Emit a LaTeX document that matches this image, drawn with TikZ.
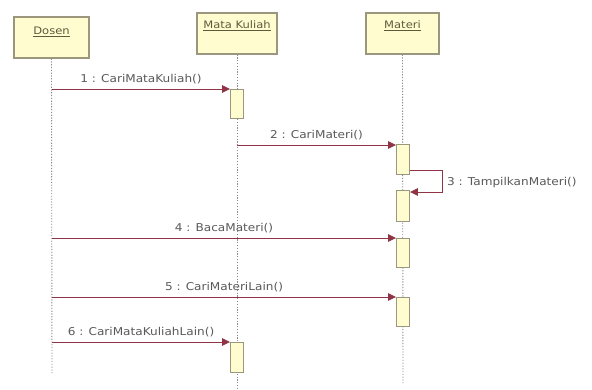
\documentclass[tikz,border=0pt]{standalone}
\usepackage{fontspec}
\setmainfont{DejaVu Sans}
\newfontfamily\lblfont[FakeStretch=1.12]{DejaVu Sans}
\usetikzlibrary{arrows.meta}
\definecolor{boxfill}{HTML}{FFFDD0}
\definecolor{boxline}{HTML}{9A977E}
\definecolor{msgline}{HTML}{8E3444}
\definecolor{txt}{HTML}{5A5A5A}
\definecolor{headtxt}{HTML}{5E5A3E}
\definecolor{lifeline}{HTML}{8A8A8A}
\tikzset{
  head/.style={draw=boxline, line width=1.1pt, fill=boxfill, minimum height=41pt, inner sep=0pt},
  headlbl/.style={font=\lblfont\fontsize{10.3}{11}\selectfont, text=headtxt, inner sep=0pt},
  act/.style={draw=boxline, line width=0.9pt, fill=boxfill, minimum width=13pt, inner sep=0pt, anchor=north},
  life/.style={lifeline, line width=0.9pt, dash pattern=on 1.2pt off 1.6pt},
  msg/.style={msgline, line width=0.9pt, -{Triangle[length=8pt,width=7.5pt]}},
  lbl/.style={text=txt, font=\lblfont\fontsize{10.8}{11}\selectfont, inner sep=0pt}
}
\begin{document}
\begin{tikzpicture}[x=1pt,y=-1pt]
\useasboundingbox[fill=white] (0,0) rectangle (592,389);
% heads
\node[head, minimum width=75pt] (dosen) at (51.5,37.5) {};
\node[head, minimum width=80pt] (mk) at (237,33.5) {};
\node[head, minimum width=73pt] (materi) at (402.5,33.5) {};
\node[headlbl] (dosent) at (51.5,32) {\underline{Dosen}};
\node[headlbl] (mkt) at (237,26) {\underline{Mata Kuliah}};
\node[headlbl] (materit) at (402.5,26) {\underline{Materi}};
% lifeline ends
\coordinate (dend) at (52,373);
\coordinate (mkend) at (237,389);
\coordinate (mend) at (403,383);
\draw[life] (dosen.south) -- (dend);
\draw[life] (mk.south) -- (mkend);
\draw[life] (materi.south) -- (mend);
% activations
\node[act, minimum height=29pt] (a1) at (237,89) {};
\node[act, minimum height=30pt] (a2) at (403,144) {};
\node[act, minimum height=31pt] (a3) at (403,190) {};
\node[act, minimum height=29pt] (a4) at (403,238) {};
\node[act, minimum height=29pt] (a5) at (403,297) {};
\node[act, minimum height=30pt] (a6) at (237,342) {};
% message start points on lifelines
\coordinate (d1) at (52,89);
\coordinate (m2) at (237,145);
\coordinate (d4) at (52,238);
\coordinate (d5) at (52,297);
\coordinate (d6) at (52,342);
\coordinate (s3a) at (409.5,170);
\coordinate (s3b) at (442,170);
\coordinate (s3c) at (442,192);
% messages
\draw[msg] (d1) -- node[lbl, above=4.5pt] {1 : CariMataKuliah()} (a1.north west);
\draw[msg] (m2) -- node[lbl, above=4.5pt] {2 : CariMateri()} (a2.north west |- m2);
\draw[msg] (s3a) -- (s3b) -- (s3c) -- (a3.east |- s3c);
\node[lbl, anchor=west] (l3) at (447,183) {3 : TampilkanMateri()};
\draw[msg] (d4) -- node[lbl, above=4.5pt] {4 : BacaMateri()} (a4.north west);
\draw[msg] (d5) -- node[lbl, above=4.5pt] {5 : CariMateriLain()} (a5.north west);
\draw[msg] (d6) -- node[lbl, above=4.5pt] {6 : CariMataKuliahLain()} (a6.north west);
\end{tikzpicture}
\end{document}
